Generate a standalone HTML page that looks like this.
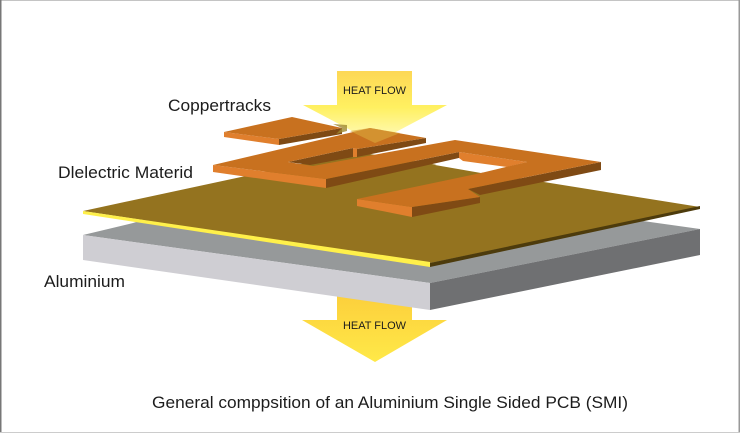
<!DOCTYPE html>
<html><head><meta charset="utf-8"><style>
html,body{margin:0;padding:0;background:#fff}
svg{display:block}
text{font-family:"Liberation Sans",sans-serif;fill:#1c1c1c}
</style></head><body>
<svg width="740" height="433" viewBox="0 0 740 433" xmlns="http://www.w3.org/2000/svg">
<defs>
<linearGradient id="a" x1="0" y1="71" x2="0" y2="143" gradientUnits="userSpaceOnUse"><stop offset="0" stop-color="#fdd755"/><stop offset=".5" stop-color="#fff060"/><stop offset="1" stop-color="#fffbc4"/></linearGradient>
<linearGradient id="b" x1="0" y1="297" x2="0" y2="362" gradientUnits="userSpaceOnUse"><stop offset="0" stop-color="#fcd03c"/><stop offset="1" stop-color="#ffe948"/></linearGradient>
</defs>
<rect width="740" height="433" fill="#fff"/>
<rect x="0" y="0" width="740" height="1" fill="#c4c4c4"/>
<rect x="0" y="0" width="1.5" height="433" fill="#777"/>
<rect x="738.5" y="0" width="1.5" height="433" fill="#999"/>
<rect x="0" y="432" width="740" height="1" fill="#ccc"/>

<!-- bottom arrow -->
<polygon points="337,295 412,295 412,320 447,320 375,362 302,320 337,320" fill="url(#b)"/>

<!-- aluminium -->
<polygon points="83,235 133,223 300,173 700,229 430,283" fill="#96999a"/>
<polygon points="83,235 430,283 430,310 83,260" fill="#cfced3"/>
<polygon points="430,283 700,229 700,255 430,310" fill="#6f7072"/>

<!-- dielectric board -->
<polygon points="83,211 357,152 700,207 430,263" fill="#94731f"/>
<polygon points="83,211 430,262 430,267 83,214" fill="#fff04a"/>
<polygon points="430,263 700,206 700,209 430,267" fill="#4d3b0c"/>

<!-- top arrow -->
<polygon points="337,71 412,71 412,105 447,105 375,143 303,105 337,105" fill="url(#a)"/>

<!-- track 1 -->
<polygon points="279,139 342,128 342,134 279,145" fill="#7f4a14"/>
<polygon points="224,132 279,139 279,145 224,137" fill="#e07f2d"/>
<polygon points="224,132 292,117 342,128 279,139" fill="#c8711f"/>
<polygon points="333,124 347,125 347,131 336,134 342,128" fill="#a08a30" opacity=".8"/>

<!-- copper walls -->
<polygon points="213,165 326,179 326,188 213,172" fill="#e07f2d"/>
<polygon points="326,179 459,152 459,158 326,188" fill="#7f4a14"/>
<polygon points="357,149 426,138 426,143 357,157" fill="#7f4a14"/>
<polygon points="353,148 357,149 357,157 353,157" fill="#e07f2d"/>
<polygon points="288,162 353,148 353,157 310,165" fill="#7f4a14"/>
<polygon points="601,162 601,170 480,195 468,189" fill="#7f4a14"/>
<polygon points="412,207 480,197 480,203 412,217" fill="#7f4a14"/>
<polygon points="357,199 412,207 412,217 357,206" fill="#e07f2d"/>

<!-- hole -->
<polygon points="435,165 459,158 463,161 507,167 481,173" fill="#fff"/>
<polygon points="459,152 527,162 507,167 463,161 459,158" fill="#e07f2d"/>

<!-- copper top face -->
<polygon points="213,165 370,128 426,138 357,149 353,148 288,162 313,166 455,140 601,162 468,189 480,197 412,207 357,199 481,173 527,162 459,152 326,179" fill="#c8711f"/>

<!-- arrow overlay on copper -->
<polygon points="350,131 370,128 400,133 375,143" fill="#d9a53a" opacity=".65"/>

<!-- labels -->
<text x="168" y="111" font-size="17" textLength="103" lengthAdjust="spacingAndGlyphs">Coppertracks</text>
<text x="58" y="178" font-size="16.5" textLength="135" lengthAdjust="spacingAndGlyphs">Dlelectric Materid</text>
<text x="44" y="287" font-size="16.5" textLength="81" lengthAdjust="spacingAndGlyphs">Aluminium</text>
<text x="343" y="94" font-size="11" textLength="63" lengthAdjust="spacingAndGlyphs">HEAT FLOW</text>
<text x="343" y="329" font-size="11" textLength="63" lengthAdjust="spacingAndGlyphs">HEAT FLOW</text>
<text x="152" y="408" font-size="16.5" textLength="476" lengthAdjust="spacingAndGlyphs">General comppsition of an Aluminium Single Sided PCB (SMI)</text>
</svg>
</body></html>
